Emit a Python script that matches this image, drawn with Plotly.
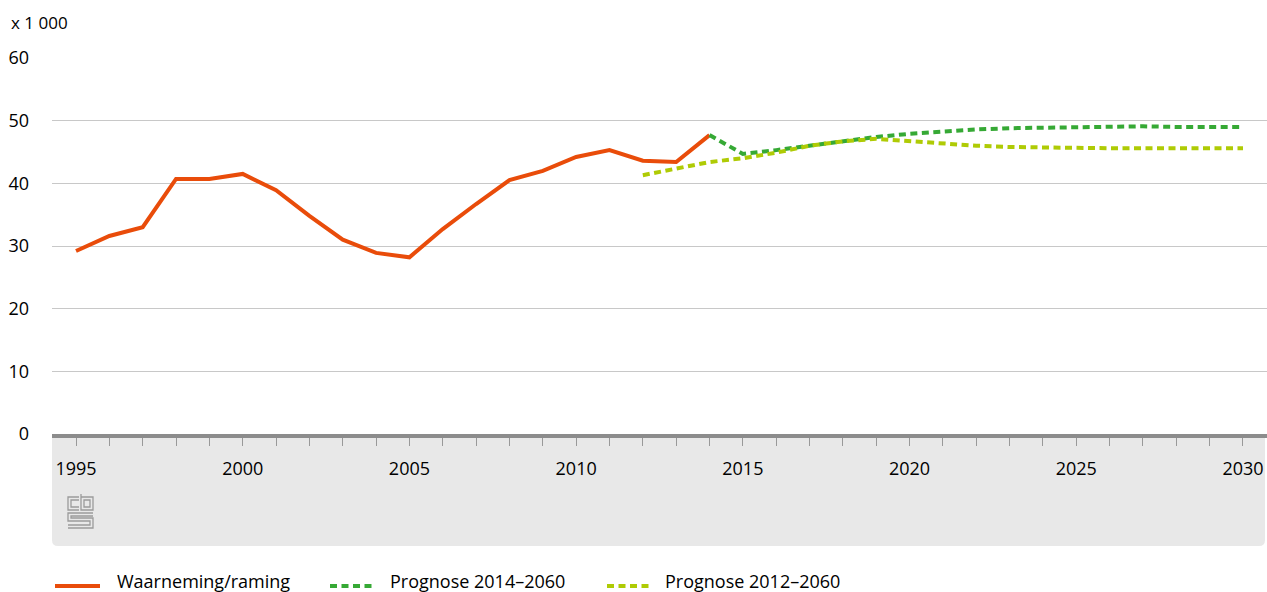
import plotly.graph_objects as go

# ---- data ----
years_obs = list(range(1995, 2015))
obs = [29.2, 31.6, 33.0, 40.7, 40.7, 41.5, 38.9, 34.8, 31.0, 28.9,
       28.2, 32.7, 36.7, 40.5, 42.0, 44.2, 45.3, 43.6, 43.4, 47.7]

years_p14 = list(range(2014, 2031))
prog14 = [47.7, 44.7, 45.3, 46.0, 46.8, 47.4, 47.9, 48.3, 48.6, 48.8,
          48.9, 49.0, 49.1, 49.1, 49.0, 49.0, 49.0]

years_p12 = list(range(2012, 2031))
prog12 = [41.3, 42.4, 43.4, 44.0, 44.9, 46.0, 46.7, 47.1, 46.7, 46.3,
          46.0, 45.8, 45.7, 45.6, 45.6, 45.6, 45.6, 45.6, 45.6]

names = ["Waarneming/raming", "Prognose 2014\u20132060", "Prognose 2012\u20132060"]
colors = ["#e94c0a", "#36a935", "#afcb05"]
dashes = ["solid", "7px,4.5px", "7px,4.5px"]
y_ticks = [0, 10, 20, 30, 40, 50, 60]
x_ticks = [1995, 2000, 2005, 2010, 2015, 2020, 2025, 2030]

FONT = "Open Sans"
PW, PH = 1215, 376  # plot area size in px


def px(x):
    return (x - 52) / PW


def py(y):
    return (434 - y) / PH


fig = go.Figure()
for xs, ys, n, c, d in [(years_obs, obs, names[0], colors[0], dashes[0]),
                        (years_p14, prog14, names[1], colors[1], dashes[1]),
                        (years_p12, prog12, names[2], colors[2], dashes[2])]:
    fig.add_trace(go.Scatter(x=xs, y=ys, mode="lines", name=n, showlegend=False,
                             line=dict(color=c, width=4, dash=d)))

# grey footer box with rounded bottom corners
fig.add_shape(type="path", xref="paper", yref="paper", xsizemode="pixel",
              ysizemode="pixel", xanchor=0, yanchor=0,
              path="M0,0 L1213,0 L1213,-106 Q1213,-112 1207,-112 L6,-112 Q0,-112 0,-106 Z",
              fillcolor="#e8e8e8", line=dict(width=0), layer="below")

# cbs logo (approximate)
logo_paths = [
    "M27,-63 H16 V-76 H27",
    "M27,-66 H19 V-73 H27",
    "M29,-60 V-76 H41 V-63 H29",
    "M32,-66 H38 V-73 H32 Z",
    "M41,-79 H16 V-87 H38 V-91 H16",
    "M41,-82 H19 V-84 H41 V-94 H16",
]
for p in logo_paths:
    fig.add_shape(type="path", xref="paper", yref="paper", xsizemode="pixel",
                  ysizemode="pixel", xanchor=0, yanchor=0, path=p,
                  line=dict(color="#9b9b9b", width=1.3), layer="above")

# legend (drawn manually to match symbol length / spacing)
leg_x = [(55, 100, 115), (330, 372, 388), (607, 650, 663)]
for (x0, x1, xt), n, c, d in zip(leg_x, names, colors, dashes):
    fig.add_shape(type="line", xref="paper", yref="paper", x0=px(x0), x1=px(x1),
                  y0=py(586), y1=py(586), line=dict(color=c, width=4, dash=d))
    fig.add_annotation(text=n, xref="paper", yref="paper", x=px(xt), y=py(581),
                       xanchor="left", yanchor="middle", showarrow=False,
                       font=dict(family=FONT, size=18, color="#000"))

fig.add_annotation(text="x 1 000", xref="paper", yref="paper", x=px(9),
                   y=py(22), xanchor="left", yanchor="middle",
                   showarrow=False, font=dict(family=FONT, size=17, color="#000"))

fig.update_layout(
    width=1267, height=592,
    margin=dict(l=52, r=0, t=58, b=158),
    plot_bgcolor="white", paper_bgcolor="white",
    font=dict(family=FONT, size=18, color="#000"),
    showlegend=False,
    xaxis=dict(range=[1994.28, 2030.72], tickvals=x_ticks, ticks="outside",
               ticklen=8, tickwidth=1, tickcolor="#999999",
               minor=dict(dtick=1, tick0=1995, ticks="outside", ticklen=8,
                          tickwidth=1, tickcolor="#999999", showgrid=False),
               showgrid=False, zeroline=False, showline=True,
               linecolor="#8c8c8c", linewidth=4, ticklabelstandoff=7,
               tickfont=dict(family=FONT, size=18, color="#000")),
    yaxis=dict(range=[0, 60], tickvals=y_ticks, showgrid=True,
               gridcolor="#c8c8c8", gridwidth=1, zeroline=False,
               showline=False, ticks="", ticklabelstandoff=22,
               tickfont=dict(family=FONT, size=18, color="#000")),
)

fig.write_html("out.html", config={"displayModeBar": False},
               post_script="document.body.style.margin='0';document.body.style.overflow='hidden';")
